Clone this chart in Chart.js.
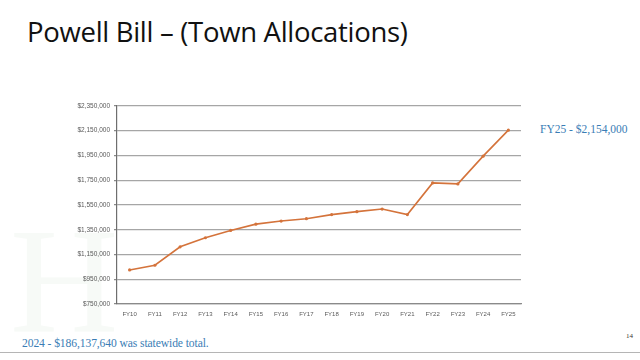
<!DOCTYPE html>
<html>
<head>
<meta charset="utf-8">
<script src="https://cdn.jsdelivr.net/npm/chart.js@4/dist/chart.umd.min.js"></script>
<style>
  html, body { margin: 0; padding: 0; background: #ffffff; }
  body { width: 640px; height: 360px; position: relative; overflow: hidden; }
  #title { position: absolute; left: 27px; top: 13px; font-family: "Open Sans", sans-serif; font-size: 27.5px; color: #111; white-space: nowrap; letter-spacing: -0.3px; }
  #wrap { position: absolute; left: 57px; top: 98px; width: 468px; height: 226px; }
  #note { position: absolute; left: 540px; top: 123px; font-family: "Liberation Serif", serif; font-size: 11.5px; color: #3a7db5; white-space: nowrap; }
  #foot { position: absolute; left: 22px; top: 337px; font-family: "Liberation Serif", serif; font-size: 11.6px; color: #3a7db5; white-space: nowrap; letter-spacing: -0.1px; }
  #page { position: absolute; left: 626px; top: 332px; font-family: "Liberation Serif", serif; font-size: 7px; color: #333; }
  #rule { position: absolute; left: 0; top: 352px; width: 640px; height: 1px; background: #b5b5b5; }
  #wm { position: absolute; left: 10px; top: 205px; font-family: "Liberation Serif", serif; font-size: 150px; color: #f7faf7; line-height: 1; }
</style>
</head>
<body>
<div id="wm">H</div>
<div id="title">Powell Bill – (Town Allocations)</div>
<div id="wrap"><canvas id="c"></canvas></div>
<div id="note">FY25 - $2,154,000</div>
<div id="foot">2024 - $186,137,640 was statewide total.</div>
<div id="page">14</div>
<div id="rule"></div>
<script>
const categories = ["FY10","FY11","FY12","FY13","FY14","FY15","FY16","FY17","FY18","FY19","FY20","FY21","FY22","FY23","FY24","FY25"];
const allocations = [1025000,1063000,1212000,1285000,1344000,1395000,1420000,1439000,1472000,1496000,1517000,1472000,1728000,1720000,1944000,2154000];
const yMin = 750000;
const yMax = 2350000;
const yStep = 200000;

new Chart(document.getElementById('c'), {
  type: 'line',
  data: {
    labels: categories,
    datasets: [{
      data: allocations,
      borderColor: '#d4733b',
      backgroundColor: '#d4733b',
      borderWidth: 1.6,
      pointRadius: 1.6,
      pointBorderWidth: 0,
      tension: 0
    }]
  },
  options: {
    responsive: true,
    maintainAspectRatio: false,
    animation: false,
    layout: { padding: { top: 6, right: 4, left: 0, bottom: 0 } },
    plugins: { legend: { display: false }, tooltip: { enabled: false } },
    scales: {
      x: {
        offset: true,
        grid: { display: false, drawTicks: false },
        border: { display: true, color: '#8a8a8a', width: 1.2 },
        ticks: { color: '#595959', font: { family: 'Liberation Sans', size: 6 }, padding: 7, maxRotation: 0, autoSkip: false },
        afterFit: (s) => { s.height = 20; }
      },
      y: {
        min: yMin,
        max: yMax,
        ticks: {
          stepSize: yStep,
          color: '#595959',
          font: { family: 'Liberation Sans', size: 6.5 },
          padding: 4,
          callback: (v) => '$' + Number(v).toLocaleString('en-US')
        },
        grid: { color: '#a6a6a6', lineWidth: 1.3, tickLength: 3, tickColor: '#8a8a8a' },
        border: { display: true, color: '#6e6e6e', width: 1.2 },
        afterFit: (s) => { s.width = 60; }
      }
    }
  }
});
</script>
</body>
</html>
